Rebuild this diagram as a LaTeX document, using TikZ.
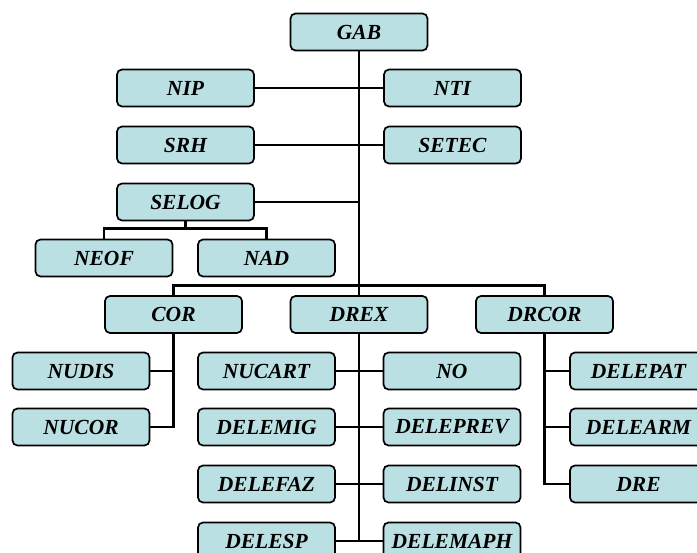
\documentclass[tikz,border=0pt]{standalone}
\usepackage{fontspec}
\setmainfont{Liberation Serif}
\usetikzlibrary{calc}
\definecolor{boxfill}{RGB}{187,224,227}
\begin{document}
\begin{tikzpicture}[x=1pt,y=-1pt,
  unit/.style={draw=black,fill=boxfill,line width=1.7pt,rounded corners=5pt,
    minimum width=137pt,minimum height=37pt,inner sep=0pt,
    font=\fontsize{21.5}{24}\selectfont\bfseries\itshape},
  link/.style={line width=2.8pt,black}]
\useasboundingbox (0,0) rectangle (697,553);
\clip (0,0) rectangle (697,553);
\fill[white] (0,0) rectangle (697,553);
% nodes
\node[unit] (GAB) at (359,32) {GAB};
\node[unit] (NIP) at (185.5,88) {NIP};
\node[unit] (NTI) at (452.5,88) {NTI};
\node[unit] (SRH) at (185.5,145) {SRH};
\node[unit] (SETEC) at (452.5,145) {SETEC};
\node[unit] (SELOG) at (185.5,202) {SELOG};
\node[unit] (NEOF) at (104,258) {NEOF};
\node[unit] (NAD) at (266.5,258) {NAD};
\node[unit] (COR) at (173.5,314.5) {COR};
\node[unit] (DREX) at (359,314.5) {DREX};
\node[unit] (DRCOR) at (544.5,314.5) {DRCOR};
\node[unit] (NUDIS) at (81,371) {NUDIS};
\node[unit] (NUCOR) at (81,427) {NUCOR};
\node[unit] (NUCART) at (266.5,371) {NUCART};
\node[unit] (NO) at (452,371) {NO};
\node[unit] (DELEMIG) at (266.5,427) {DELEMIG};
\node[unit] (DELEPREV) at (452,427) {DELEPREV};
\node[unit] (DELEFAZ) at (266.5,484) {DELEFAZ};
\node[unit] (DELINST) at (452,484) {DELINST};
\node[unit] (DELESP) at (266.5,541) {DELESP};
\node[unit] (DELEMAPH) at (452,541) {DELEMAPH};
\node[unit] (DELEPAT) at (638.5,371) {DELEPAT};
\node[unit] (DELEARM) at (638.5,427) {DELEARM};
\node[unit] (DRE) at (638.5,484) {DRE};
% connectors
\draw[link] (GAB.south) -- (DREX.north);
\draw[link] (NIP.east) -- (NTI.west);
\draw[link] (SRH.east) -- (SETEC.west);
\draw[link] (SELOG.east) -- (SELOG.east -| GAB.south);
\draw[link] (SELOG.south) -- ++(0,8);
\draw[link] (NEOF.north) -- ++(0,-10) -| (NAD.north);
\draw[link] (COR.north) -- ++(0,-10) -| (DRCOR.north);
% COR children
\draw[link] (COR.south) |- (NUCOR.east);
\draw[link] (NUDIS.east) -- (NUDIS.east -| COR.south);
% DREX children
\draw[link] (DREX.south) -- (DREX.south |- DELESP.east);
\draw[link] (NUCART.east) -- (NO.west);
\draw[link] (DELEMIG.east) -- (DELEPREV.west);
\draw[link] (DELEFAZ.east) -- (DELINST.west);
\draw[link] (DELESP.east) -- (DELEMAPH.west);
% DRCOR children
\draw[link] (DRCOR.south) |- (DRE.west);
\draw[link] (DELEPAT.west) -- (DELEPAT.west -| DRCOR.south);
\draw[link] (DELEARM.west) -- (DELEARM.west -| DRCOR.south);
\end{tikzpicture}
\end{document}
